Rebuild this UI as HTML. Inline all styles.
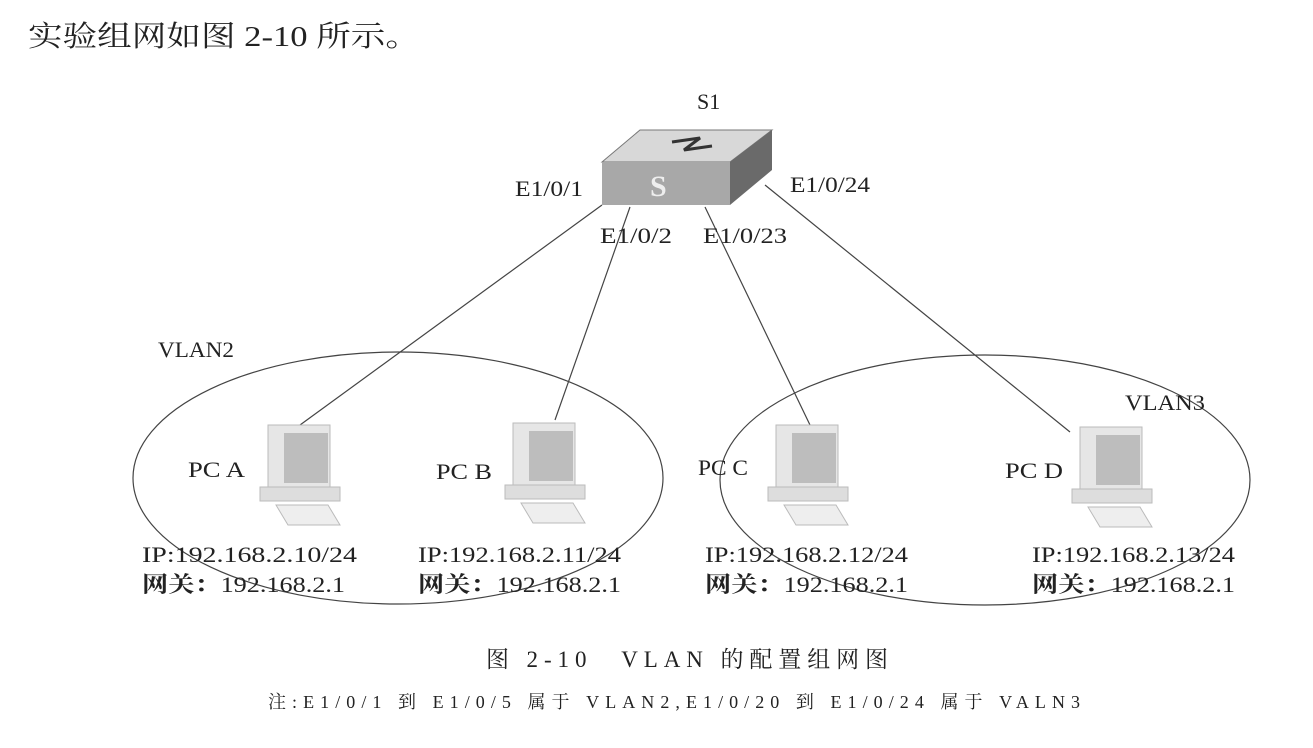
<!DOCTYPE html>
<html><head><meta charset="utf-8"><style>
body{margin:0;background:#fff}
svg text{font-family:"Liberation Serif","Noto Serif CJK SC",serif;fill:#222}
</style></head><body>
<svg width="1313" height="743" viewBox="0 0 1313 743" xmlns="http://www.w3.org/2000/svg">
<text x="28" y="46" font-size="29" textLength="392" lengthAdjust="spacingAndGlyphs">实验组网如图 2-10 所示。</text>
<g stroke="#444" stroke-width="1.2" fill="none">
<ellipse cx="398" cy="478" rx="265" ry="126"/>
<ellipse cx="985" cy="480" rx="265" ry="125"/>
<line x1="602" y1="205" x2="300" y2="425"/>
<line x1="630" y1="207" x2="555" y2="420"/>
<line x1="705" y1="207" x2="810" y2="425"/>
<line x1="765" y1="185" x2="1070" y2="432"/>
</g>
<polygon points="602,162 640,130 772,130 730,162" fill="#d8d8d8" stroke="#777"/>
<polygon points="730,162 772,130 772,170 730,205" fill="#6a6a6a"/>
<rect x="602" y="162" width="128" height="43" fill="#a8a8a8"/>
<path d="M672,142 L700,138 L684,150 L712,146" stroke="#333" stroke-width="3" fill="none"/>
<text x="650" y="196" font-size="30" font-weight="bold" style="fill:#eee">S</text>
<defs>
<g id="p">
<rect x="0" y="0" width="62" height="62" fill="#e6e6e6" stroke="#bbb"/>
<rect x="16" y="8" width="44" height="50" fill="#bdbdbd"/>
<rect x="-8" y="62" width="80" height="14" fill="#ddd" stroke="#bbb"/>
<polygon points="8,80 60,80 72,100 20,100" fill="#eee" stroke="#bbb"/>
</g>
</defs>
<use href="#p" x="268" y="425"/>
<use href="#p" x="513" y="423"/>
<use href="#p" x="776" y="425"/>
<use href="#p" x="1080" y="427"/>
<g font-size="22" lengthAdjust="spacingAndGlyphs">
<text x="697" y="109">S1</text>
<text x="515" y="196" textLength="68" lengthAdjust="spacingAndGlyphs">E1/0/1</text>
<text x="790" y="192" textLength="80" lengthAdjust="spacingAndGlyphs">E1/0/24</text>
<text x="600" y="243" textLength="72" lengthAdjust="spacingAndGlyphs">E1/0/2</text>
<text x="703" y="243" textLength="84" lengthAdjust="spacingAndGlyphs">E1/0/23</text>
<text x="158" y="357" textLength="76" lengthAdjust="spacingAndGlyphs">VLAN2</text>
<text x="1125" y="410" textLength="80" lengthAdjust="spacingAndGlyphs">VLAN3</text>
<text x="188" y="477" textLength="57" lengthAdjust="spacingAndGlyphs">PC A</text>
<text x="436" y="479" textLength="56" lengthAdjust="spacingAndGlyphs">PC B</text>
<text x="698" y="475" textLength="50" lengthAdjust="spacingAndGlyphs">PC C</text>
<text x="1005" y="478" textLength="58" lengthAdjust="spacingAndGlyphs">PC D</text>
<text x="142" y="562" textLength="215" lengthAdjust="spacingAndGlyphs">IP:192.168.2.10/24</text>
<text x="142" y="592" textLength="203" lengthAdjust="spacingAndGlyphs"><tspan font-weight="bold">网关：</tspan>192.168.2.1</text>
<text x="418" y="562" textLength="203" lengthAdjust="spacingAndGlyphs">IP:192.168.2.11/24</text>
<text x="418" y="592" textLength="203" lengthAdjust="spacingAndGlyphs"><tspan font-weight="bold">网关：</tspan>192.168.2.1</text>
<text x="705" y="562" textLength="203" lengthAdjust="spacingAndGlyphs">IP:192.168.2.12/24</text>
<text x="705" y="592" textLength="203" lengthAdjust="spacingAndGlyphs"><tspan font-weight="bold">网关：</tspan>192.168.2.1</text>
<text x="1032" y="562" textLength="203" lengthAdjust="spacingAndGlyphs">IP:192.168.2.13/24</text>
<text x="1032" y="592" textLength="203" lengthAdjust="spacingAndGlyphs"><tspan font-weight="bold">网关：</tspan>192.168.2.1</text>
</g>
<text x="486" y="667" font-size="23" textLength="402">图 2-10　VLAN 的配置组网图</text>
<text x="268" y="708" font-size="18" textLength="812">注:E1/0/1 到 E1/0/5 属于 VLAN2,E1/0/20 到 E1/0/24 属于 VALN3</text>
</svg>
</body></html>
